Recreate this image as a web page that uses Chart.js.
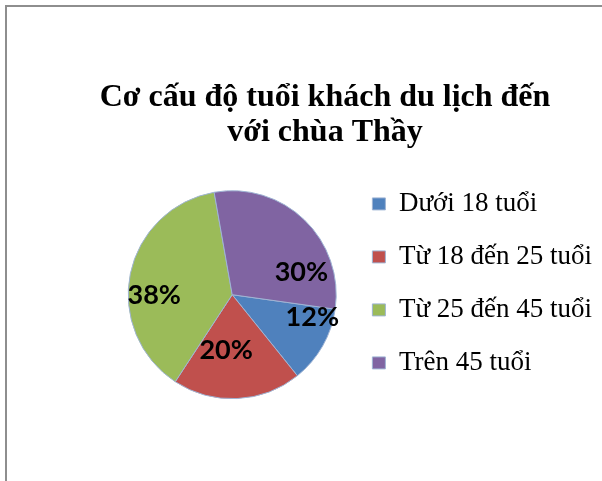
<!DOCTYPE html>
<html>
<head>
<meta charset="utf-8">
<script src="https://cdn.jsdelivr.net/npm/chart.js@4.4.1/dist/chart.umd.min.js"></script>
<style>
  html, body { margin: 0; padding: 0; background: #fff; }
  #frame { position: absolute; left: 5px; top: 5px; width: 600px; height: 480px;
           border-left: 2px solid #8e8e8e; border-top: 2px solid #8e8e8e; box-sizing: border-box; }
  #wrap { position: absolute; left: 0; top: 0; width: 602px; height: 481px; }
</style>
</head>
<body>
<div id="frame"></div>
<div id="wrap"><canvas id="c" width="602" height="481"></canvas></div>
<script>
const titleLines = ['Cơ cấu độ tuổi khách du lịch đến', 'với chùa Thầy'];
const categories = ['Dưới 18 tuổi', 'Từ 18 đến 25 tuổi', 'Từ 25 đến 45 tuổi', 'Trên 45 tuổi'];
const shares = [12, 20, 38, 30];
const sliceColors = ['#4F81BD', '#C0504D', '#9BBB59', '#8064A2'];

// percentage labels placed from each arc's own geometry
const pctLabels = {
  id: 'pctLabels',
  afterDatasetsDraw(chart, args, opts) {
    const meta = chart.getDatasetMeta(0);
    const ctx = chart.ctx;
    ctx.save();
    ctx.font = opts.font;
    ctx.fillStyle = opts.color;
    ctx.textAlign = 'center';
    ctx.textBaseline = 'middle';
    meta.data.forEach((arc, i) => {
      const p = arc.getProps(['x', 'y', 'startAngle', 'endAngle', 'outerRadius'], true);
      const n = opts.nudges[i] || [0, 0.7];
      const a = (p.startAngle + p.endAngle) / 2 + n[0] * Math.PI / 180;
      const r = p.outerRadius * n[1];
      ctx.fillText(shares[i] + '%', p.x + Math.cos(a) * r, p.y + Math.sin(a) * r);
    });
    ctx.restore();
  }
};

// the title is centred over the whole frame, not over the pie+legend split
const titleShift = {
  id: 'titleShift',
  afterLayout(chart, args, opts) {
    const t = chart.titleBlock;
    if (t) { t.left += opts.dx; t.right += opts.dx; }
  }
};

const baseLabels = Chart.overrides.pie.plugins.legend.labels.generateLabels;

new Chart(document.getElementById('c'), {
  type: 'pie',
  data: {
    labels: categories,
    datasets: [{
      data: shares,
      backgroundColor: sliceColors,
      borderColor: '#9fb4d4',
      borderWidth: 1
    }]
  },
  options: {
    responsive: false,
    animation: false,
    rotation: 98,
    radius: 104,
    layout: { padding: { left: 98, right: 0, top: 80, bottom: 76 } },
    plugins: {
      title: {
        display: true,
        text: titleLines,
        color: '#000',
        font: { family: '"Liberation Serif", "Times New Roman", serif', size: 32, weight: 'bold', lineHeight: 1.1 },
        padding: { top: 0, bottom: 34 }
      },
      legend: {
        position: 'right',
        align: 'start',
        fullSize: false,
        labels: {
          color: '#000',
          boxWidth: 13,
          boxHeight: 12,
          padding: 6,
          font: { family: '"Liberation Serif", "Times New Roman", serif', size: 27, lineHeight: 1.7407 },
          generateLabels(chart) {
            return baseLabels(chart).map(it => Object.assign(it, { text: [it.text] }));
          }
        }
      },
      tooltip: { enabled: false },
      titleShift: { dx: -25 },
      pctLabels: {
        font: 'bold 27px Lato, "Open Sans", sans-serif',
        color: '#000',
        nudges: [[-14, 0.8], [9, 0.54], [-12, 0.75], [28, 0.70]]
      }
    }
  },
  plugins: [pctLabels, titleShift]
});
</script>
</body>
</html>
